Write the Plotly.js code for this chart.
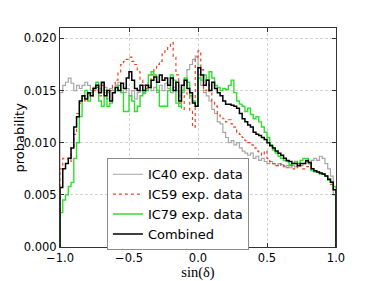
<!DOCTYPE html>
<html>
<head>
<meta charset="utf-8">
<script src="https://cdn.plot.ly/plotly-3.0.1.min.js"></script>
<style>html,body{margin:0;padding:0;background:#fff;}#chart{width:374px;height:281px;}</style>
</head>
<body>
<div id="chart"></div>
<script>
// Histogram bins: 100 bins of width 0.02 from -1 to 1 (left edges)
const binStart = -1.0;
const binWidth = 0.02;

const ic40 = [
0.0148,0.0155,0.0158,0.0162,0.0157,0.0150,0.0155,0.0152,0.0155,0.0158,
0.0155,0.0150,0.0153,0.0155,0.0152,0.0157,0.0153,0.0148,0.0152,0.0150,
0.0155,0.0158,0.0150,0.0148,0.0152,0.0145,0.0150,0.0142,0.0148,0.0150,
0.0147,0.0152,0.0155,0.0150,0.0153,0.0148,0.0155,0.0150,0.0157,0.0152,
0.0148,0.0153,0.0150,0.0145,0.0148,0.0160,0.0170,0.0175,0.0180,0.0183,
0.0165,0.0155,0.0148,0.0145,0.0140,0.0132,0.0128,0.0120,0.0118,0.0110,
0.0105,0.0100,0.0102,0.0098,0.0100,0.0095,0.0092,0.0090,0.0088,0.0090,
0.0085,0.0087,0.0083,0.0085,0.0082,0.0080,0.0082,0.0080,0.0078,0.0080,
0.0079,0.0077,0.0078,0.0076,0.0078,0.0077,0.0080,0.0078,0.0080,0.0082,
0.0080,0.0083,0.0085,0.0083,0.0087,0.0085,0.0080,0.0075,0.0068,0.0050
];

const ic59 = [
0.0075,0.0085,0.0085,0.0082,0.0095,0.0108,0.0128,0.0138,0.0145,0.0140,
0.0147,0.0145,0.0150,0.0153,0.0145,0.0155,0.0148,0.0142,0.0150,0.0155,
0.0160,0.0168,0.0175,0.0178,0.0180,0.0182,0.0178,0.0175,0.0168,0.0160,
0.0155,0.0152,0.0158,0.0165,0.0170,0.0175,0.0178,0.0185,0.0188,0.0192,
0.0196,0.0182,0.0165,0.0138,0.0132,0.0145,0.0150,0.0130,0.0115,0.0182,
0.0188,0.0170,0.0150,0.0160,0.0148,0.0140,0.0135,0.0128,0.0125,0.0123,
0.0120,0.0122,0.0118,0.0115,0.0110,0.0108,0.0105,0.0102,0.0100,0.0098,
0.0095,0.0092,0.0090,0.0088,0.0092,0.0085,0.0082,0.0080,0.0078,0.0080,
0.0077,0.0078,0.0076,0.0078,0.0075,0.0077,0.0076,0.0078,0.0075,0.0077,
0.0080,0.0075,0.0073,0.0072,0.0070,0.0070,0.0068,0.0065,0.0060,0.0055
];

const ic79 = [
0.0033,0.0045,0.0050,0.0058,0.0062,0.0085,0.0100,0.0125,0.0145,0.0150,
0.0140,0.0148,0.0152,0.0158,0.0140,0.0135,0.0150,0.0135,0.0138,0.0148,
0.0150,0.0155,0.0148,0.0130,0.0130,0.0145,0.0140,0.0130,0.0135,0.0145,
0.0148,0.0150,0.0165,0.0168,0.0165,0.0150,0.0135,0.0135,0.0135,0.0150,
0.0165,0.0160,0.0138,0.0135,0.0150,0.0162,0.0158,0.0145,0.0140,0.0135,
0.0162,0.0160,0.0165,0.0160,0.0168,0.0162,0.0155,0.0153,0.0150,0.0152,
0.0151,0.0155,0.0160,0.0148,0.0140,0.0137,0.0135,0.0130,0.0133,0.0127,
0.0123,0.0125,0.0120,0.0115,0.0110,0.0105,0.0098,0.0093,0.0090,0.0087,
0.0085,0.0083,0.0082,0.0079,0.0080,0.0082,0.0080,0.0083,0.0085,0.0085,
0.0080,0.0073,0.0072,0.0072,0.0070,0.0070,0.0068,0.0064,0.0062,0.0058
];

const combined = [
0.0057,0.0075,0.0080,0.0085,0.0095,0.0115,0.0125,0.0140,0.0145,0.0142,
0.0148,0.0145,0.0152,0.0155,0.0148,0.0158,0.0145,0.0150,0.0140,0.0148,
0.0153,0.0150,0.0157,0.0152,0.0162,0.0168,0.0160,0.0152,0.0150,0.0155,
0.0150,0.0155,0.0153,0.0160,0.0163,0.0158,0.0165,0.0160,0.0162,0.0155,
0.0162,0.0150,0.0158,0.0140,0.0155,0.0160,0.0152,0.0148,0.0138,0.0135,
0.0172,0.0165,0.0155,0.0160,0.0150,0.0158,0.0152,0.0148,0.0145,0.0140,
0.0137,0.0137,0.0136,0.0135,0.0133,0.0128,0.0123,0.0120,0.0117,0.0115,
0.0110,0.0108,0.0107,0.0105,0.0103,0.0100,0.0097,0.0095,0.0092,0.0090,
0.0088,0.0085,0.0083,0.0082,0.0080,0.0080,0.0078,0.0080,0.0080,0.0083,
0.0081,0.0075,0.0073,0.0072,0.0071,0.0070,0.0068,0.0065,0.0062,0.0055
];

const seriesNames = ["IC40 exp. data", "IC59 exp. data", "IC79 exp. data", "Combined"];
const xTickVals = [-1, -0.5, 0, 0.5, 1];
const xTickText = ["\u22121.0", "\u22120.5", "0.0", "0.5", "1.0"];
const yTickVals = [0, 0.005, 0.01, 0.015, 0.02];
const yTickText = ["0.000", "0.005", "0.010", "0.015", "0.020"];

function stepXY(vals) {
  const n = vals.length;
  const xs = [binStart], ys = [0];
  for (let i = 0; i < n; i++) { xs.push(binStart + i * binWidth); ys.push(vals[i]); }
  const end = binStart + n * binWidth;
  xs.push(end); ys.push(vals[n - 1]);
  xs.push(end); ys.push(0);
  return {x: xs, y: ys};
}

const styles = [
  {color: "#a6a6a6", width: 1.2, dash: "solid"},
  {color: "#ee4422", width: 1.2, dash: "dot"},
  {color: "#2ee02e", width: 1.4, dash: "solid"},
  {color: "#000000", width: 1.5, dash: "solid"}
];

const allVals = [ic40, ic59, ic79, combined];
const traces = allVals.map((v, i) => {
  const s = stepXY(v);
  return {x: s.x, y: s.y, type: "scatter", mode: "lines", name: seriesNames[i],
          line: {shape: "hv", color: styles[i].color, width: styles[i].width, dash: styles[i].dash}};
});

const axisCommon = {
  showline: true, linecolor: "#333", linewidth: 1, mirror: "ticks",
  ticks: "inside", ticklen: 4, tickcolor: "#333",
  showgrid: true, gridcolor: "#d2d2d2", griddash: "3px,2px", gridwidth: 1,
  zeroline: false,
  tickfont: {family: "DejaVu Sans", size: 11.5, color: "#000"}
};

const layout = {
  width: 374, height: 281,
  margin: {l: 60, r: 38, t: 28, b: 34},
  paper_bgcolor: "#fff", plot_bgcolor: "#fff",
  showlegend: true,
  legend: {x: 0.17, y: 0.405, xanchor: "left", yanchor: "top",
           bgcolor: "#fff", bordercolor: "#8c8c8c", borderwidth: 1,
           font: {family: "DejaVu Sans", size: 13, color: "#000"}},
  xaxis: Object.assign({}, axisCommon, {
    range: [-1, 1], tickvals: xTickVals, ticktext: xTickText,
    title: {text: "sin(\u03b4)", font: {family: "Liberation Serif", size: 14.5, color: "#000"}, standoff: 2}
  }),
  yaxis: Object.assign({}, axisCommon, {
    range: [0, 0.021], tickvals: yTickVals, ticktext: yTickText
  }),
  annotations: [{
    text: "probability", xref: "paper", yref: "paper", x: 0, y: 0.5,
    xanchor: "center", yanchor: "middle", xshift: -41, textangle: -90, showarrow: false,
    font: {family: "DejaVu Sans", size: 13, color: "#000"}
  }]
};

Plotly.newPlot("chart", traces, layout, {displayModeBar: false, staticPlot: true});
</script>
</body>
</html>
